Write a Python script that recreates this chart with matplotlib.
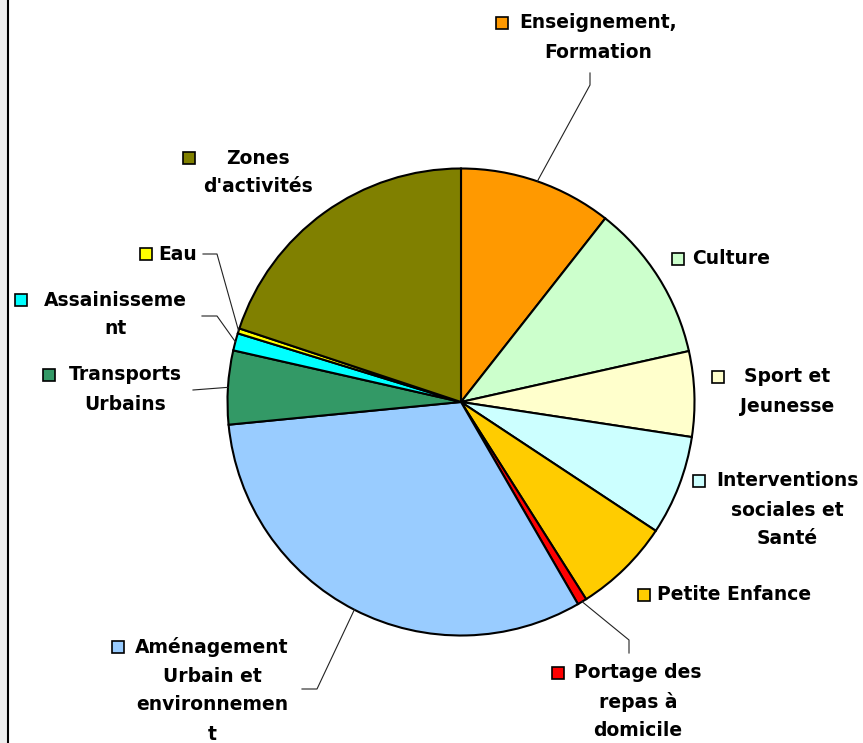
import matplotlib
matplotlib.use("Agg")
import matplotlib.pyplot as plt
from matplotlib.patches import Rectangle
import numpy as np

W, H = 863, 743

# slice order: clockwise from 12 o'clock
labels = ["Enseignement,\nFormation", "Culture", "Sport et\nJeunesse",
          "Interventions\nsociales et\nSanté", "Petite Enfance",
          "Portage des\nrepas à\ndomicile",
          "Aménagement\nUrbain et\nenvironnemen\nt",
          "Transports\nUrbains", "Assainisseme\nnt", "Eau",
          "Zones\nd'activités"]
shares = [10.6, 10.9, 5.9, 6.9, 6.7, 0.65, 31.8, 5.1, 1.2, 0.35, 19.9]
colors = ["#FF9900", "#CCFFCC", "#FFFFCC", "#CCFFFF", "#FFCC00", "#FF0000",
          "#99CCFF", "#339966", "#00FFFF", "#FFFF00", "#808000"]

# label layout in pixels: text centre x, first line y, legend key left x
text_cx = [598, 731, 787, 787, 734, 638, 212, 125, 115, 178, 258]
text_y0 = [23, 259, 377, 481, 595, 673, 647, 375, 300, 254, 158]
key_x = [496, 672, 712, 693, 638, 552, 112, 43, 15, 140, 183]
# leader lines (points after the arc) in pixels
leaders = {0: [(590, 85), (590, 73)],
           5: [(629, 640), (629, 653)],
           6: [(317, 689), (302, 689)],
           7: [(193, 390)],
           8: [(217, 316), (202, 316)],
           9: [(217, 254), (203, 254)]}

cx, cy, R = 461, 402, 233.5
line_gap = 29


def px(x, y):
    return x, H - y


fig = plt.figure(figsize=(W / 100, H / 100), dpi=100)
fig.patch.set_facecolor("white")
ax = fig.add_axes([0, 0, 1, 1])

wedges, _ = ax.pie(shares, colors=colors, startangle=90, counterclock=False,
                   center=px(cx, cy), radius=R,
                   wedgeprops=dict(edgecolor="black", linewidth=1.5))
ax.set_xlim(0, W)
ax.set_ylim(0, H)
ax.set_aspect("equal")
ax.axis("off")

# left frame strip
ax.add_patch(Rectangle((0, 0), 6.5, H, facecolor="#efefef", edgecolor="none"))
ax.plot([7.5, 7.5], [0, H], color="black", linewidth=1.5)

for i, w in enumerate(wedges):
    lines = labels[i].split("\n")
    for k, line in enumerate(lines):
        ax.text(*px(text_cx[i], text_y0[i] + k * line_gap), line,
                ha="center", va="center", fontsize=13.5, fontweight="bold",
                family="DejaVu Sans", color="black")
    ax.add_patch(Rectangle(px(key_x[i], text_y0[i] + 6), 12, 12,
                           facecolor=colors[i], edgecolor="black",
                           linewidth=1.2))
    if i in leaders:
        mid = np.deg2rad((w.theta1 + w.theta2) / 2)
        start = (cx + R * np.cos(mid), cy - R * np.sin(mid))
        pts = [start] + leaders[i]
        xs = [p[0] for p in pts]
        ys = [H - p[1] for p in pts]
        ax.plot(xs, ys, color="#222222", linewidth=0.8)

fig.savefig("out.png", dpi=100)
